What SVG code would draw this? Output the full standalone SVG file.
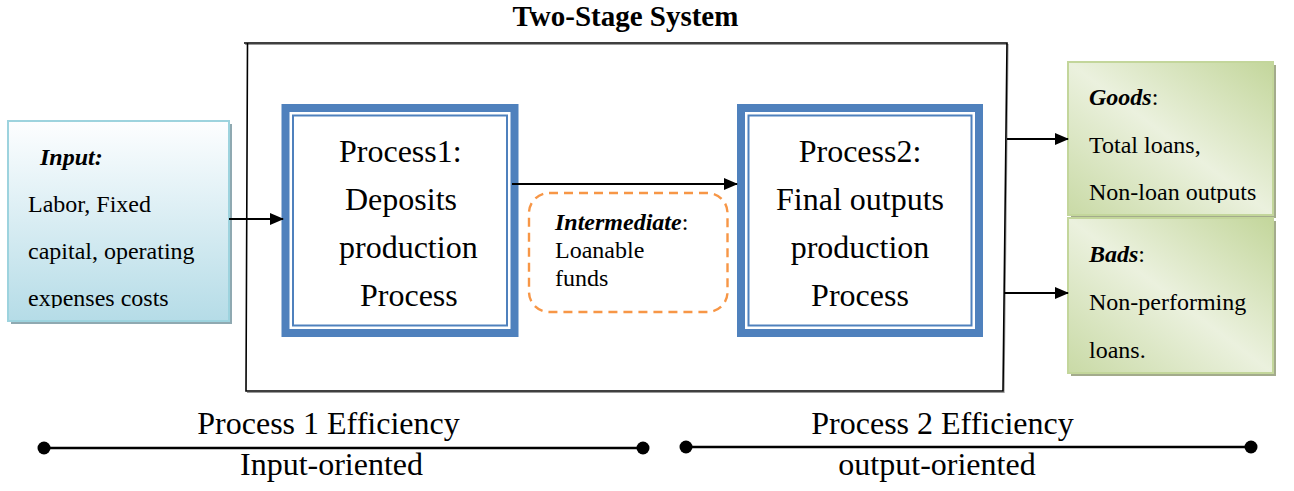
<svg xmlns="http://www.w3.org/2000/svg" width="1294" height="491" viewBox="0 0 1294 491" font-family="Liberation Serif, Times New Roman, serif">
  <style>
    text { font-family: "Liberation Serif", "Times New Roman", serif; fill: #000; }
    .title { font-size: 29px; font-weight: bold; }
    .proc { font-size: 32px; }
    .side { font-size: 24px; }
    .eff { font-size: 32px; }
    .bi { font-weight: bold; font-style: italic; }
    .frame { fill: none; stroke: #000; stroke-width: 1.6; }
    .procOuter { fill: #fff; stroke: #4f81bd; stroke-width: 8; }
    .procInner { fill: none; stroke: #4f81bd; stroke-width: 2; }
    .conn { stroke: #000; stroke-width: 2.2; fill: none; }
    .scale { stroke: #000; stroke-width: 2.6; }
  </style>
  <defs>
    <linearGradient id="blueFill" x1="0" y1="0" x2="0" y2="1">
      <stop offset="0" stop-color="#fdfeff"/>
      <stop offset="1" stop-color="#b5dce7"/>
    </linearGradient>
    <linearGradient id="greenFill" x1="1" y1="0" x2="0" y2="1">
      <stop offset="0" stop-color="#c3d69b"/>
      <stop offset="0.5" stop-color="#ebf1de"/>
      <stop offset="1" stop-color="#c9daa6"/>
    </linearGradient>
    <clipPath id="clipInput"><rect x="8" y="121" width="221" height="187"/></clipPath>
    <clipPath id="clipGoods"><rect x="1068" y="62" width="205" height="141"/></clipPath>
    <marker id="arrow" markerWidth="14" markerHeight="12" refX="13" refY="6" orient="auto" markerUnits="userSpaceOnUse">
      <path d="M0,0 L14,6 L0,12 Z" fill="#000"/>
    </marker>
  </defs>

  <!-- heading -->
  <text class="title" x="625.5" y="26" text-anchor="middle">Two-Stage System</text>

  <!-- system frame -->
  <g id="system-frame">
    <path d="M245,44.5 L1008,44.5 L1004,392.5 L247,392.5" fill="none" stroke="#9a9a9a" stroke-width="1.2"/>
    <path class="frame" d="M244,43 L1007,43 L1003,391 L246,391 L247.5,43"/>
  </g>

  <!-- input node -->
  <g id="input">
    <rect x="11" y="124" width="221" height="200" fill="#8fa9b1"/>
    <rect x="8" y="121" width="221" height="200" fill="url(#blueFill)" stroke="#9dd3de" stroke-width="2"/>
    <g clip-path="url(#clipInput)">
      <text class="side bi" x="40" y="165">Input:</text>
      <text class="side" x="28" y="212">Labor, Fixed</text>
      <text class="side" x="28" y="259">capital, operating</text>
      <text class="side" x="28" y="306">expenses costs</text>
    </g>
  </g>

  <!-- process 1 node -->
  <g id="process1">
    <rect class="procOuter" x="285.5" y="108" width="229" height="225"/>
    <rect class="procInner" x="293" y="115.5" width="214" height="210"/>
    <text class="proc" x="339" y="162">Process1:</text>
    <text class="proc" x="345" y="210">Deposits</text>
    <text class="proc" x="339" y="258">production</text>
    <text class="proc" x="360" y="306">Process</text>
  </g>

  <!-- intermediate node -->
  <g id="intermediate">
    <rect x="529" y="193" width="198.5" height="119" rx="20" ry="20" fill="none" stroke="#f79646" stroke-width="2.4" stroke-dasharray="9,6"/>
    <text class="side" x="555" y="230"><tspan class="bi">Intermediate</tspan>:</text>
    <text class="side" x="555" y="258">Loanable</text>
    <text class="side" x="555" y="286">funds</text>
  </g>

  <!-- process 2 node -->
  <g id="process2">
    <rect class="procOuter" x="741" y="108" width="238" height="225"/>
    <rect class="procInner" x="748.5" y="115.5" width="223" height="210"/>
    <text class="proc" x="860" y="162" text-anchor="middle">Process2:</text>
    <text class="proc" x="860" y="210" text-anchor="middle">Final outputs</text>
    <text class="proc" x="860" y="258" text-anchor="middle">production</text>
    <text class="proc" x="860" y="306" text-anchor="middle">Process</text>
  </g>

  <!-- desirable outputs node -->
  <g id="goods">
    <rect x="1071" y="65" width="205" height="153" fill="#a3ab8c"/>
    <rect x="1068" y="62" width="205" height="153" fill="url(#greenFill)" stroke="#c3d69b" stroke-width="2"/>
    <g clip-path="url(#clipGoods)">
      <text class="side" x="1089" y="105"><tspan class="bi">Goods</tspan>:</text>
      <text class="side" x="1089" y="153">Total loans,</text>
      <text class="side" x="1089" y="200">Non-loan outputs</text>
    </g>
  </g>

  <!-- undesirable outputs node -->
  <g id="bads">
    <rect x="1071" y="221" width="205" height="155" fill="#a3ab8c"/>
    <rect x="1068" y="218" width="205" height="155" fill="url(#greenFill)" stroke="#c3d69b" stroke-width="2"/>
    <text class="side" x="1089" y="262"><tspan class="bi">Bads</tspan>:</text>
    <text class="side" x="1089" y="310">Non-performing</text>
    <text class="side" x="1089" y="358">loans.</text>
  </g>

  <!-- connectors -->
  <g id="connectors">
    <line class="conn" x1="229" y1="219" x2="283" y2="219" marker-end="url(#arrow)"/>
    <line class="conn" x1="512" y1="184" x2="737" y2="184" marker-end="url(#arrow)"/>
    <line class="conn" x1="1007" y1="139" x2="1068" y2="139" marker-end="url(#arrow)"/>
    <line class="conn" x1="1004" y1="293" x2="1068" y2="293" marker-end="url(#arrow)"/>
  </g>

  <!-- efficiency scales -->
  <g id="scale1">
    <line class="scale" x1="44" y1="448" x2="643" y2="448"/>
    <circle cx="44" cy="448" r="6.5" fill="#000"/>
    <circle cx="643" cy="448" r="6.5" fill="#000"/>
    <text class="eff" x="328.5" y="434" text-anchor="middle">Process 1 Efficiency</text>
    <text class="eff" x="331.5" y="475" text-anchor="middle">Input-oriented</text>
  </g>
  <g id="scale2">
    <line class="scale" x1="686" y1="447" x2="1251" y2="447"/>
    <circle cx="686" cy="447" r="6.5" fill="#000"/>
    <circle cx="1251" cy="447" r="6.5" fill="#000"/>
    <text class="eff" x="942.5" y="434" text-anchor="middle">Process 2 Efficiency</text>
    <text class="eff" x="937" y="475" text-anchor="middle">output-oriented</text>
  </g>
</svg>
